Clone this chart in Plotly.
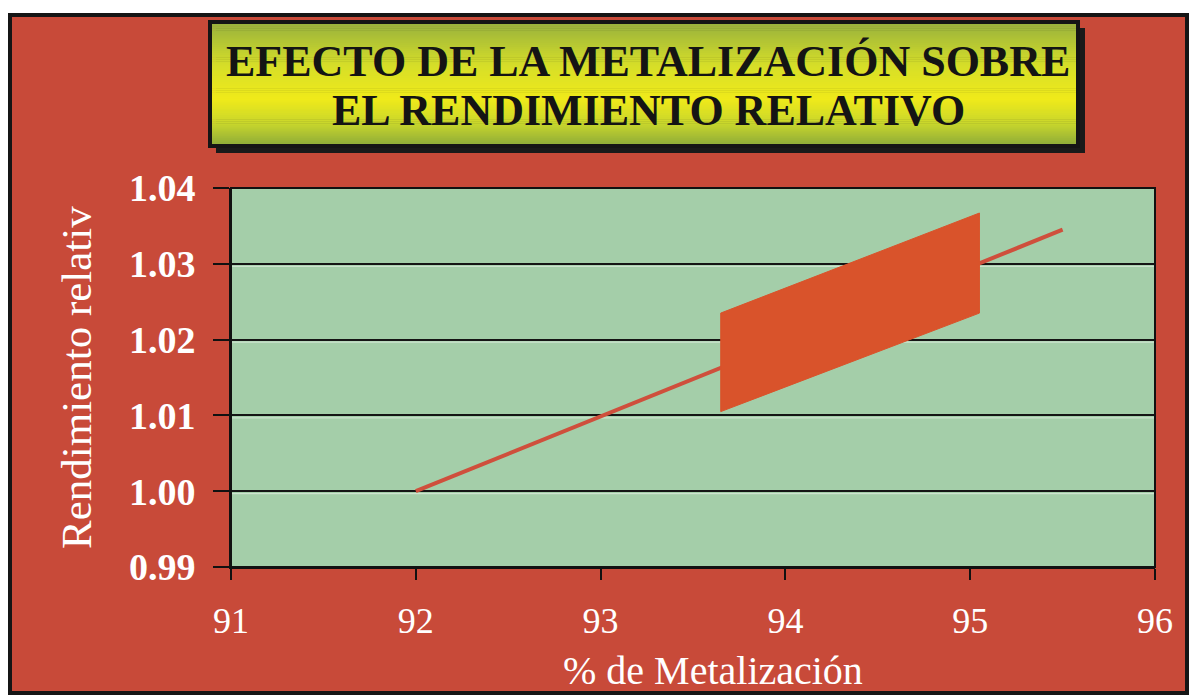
import plotly.graph_objects as go

# Data
line_x = [92.0, 95.5]
line_y = [1.000, 1.0345]

band_x = [93.65, 95.05]
band_low = [1.0105, 1.0235]
band_high = [1.0235, 1.0367]

x_ticks = [91, 92, 93, 94, 95, 96]
y_ticks = [0.99, 1.00, 1.01, 1.02, 1.03, 1.04]

title_lines = ["EFECTO DE LA METALIZACIÓN SOBRE", "EL RENDIMIENTO RELATIVO"]
x_title = "% de Metalización"
y_title = "Rendimiento relativ"

# Figure geometry (pixels)
FW, FH = 1189, 695
L, R, T, B = 231, 34, 188, 128
W, H = FW - L - R, FH - T - B
Y_RANGE = [0.99, 1.04]

RED = "#c84a39"
GREEN = "#a4cea9"
BAND = "#d9532b"
LINE = "#cf4f3c"
SERIF = "Liberation Serif, Times New Roman, serif"


def px(x):
    return (x - L) / W


def py(y):
    return 1 - (y - T) / H


fig = go.Figure()

fig.add_trace(go.Scatter(
    x=line_x, y=line_y, mode="lines",
    line=dict(color=LINE, width=4), hoverinfo="skip", showlegend=False,
))

poly_x = [band_x[0], band_x[0], band_x[1], band_x[1], band_x[0]]
poly_y = [band_low[0], band_high[0], band_high[1], band_low[1], band_low[0]]
fig.add_trace(go.Scatter(
    x=poly_x, y=poly_y, mode="lines", fill="toself",
    fillcolor=BAND, line=dict(color=BAND, width=1),
    hoverinfo="skip", showlegend=False,
))

shapes = []
# outer panel with black frame
shapes.append(dict(type="rect", xref="paper", yref="paper",
                   x0=px(10), x1=px(1187), y0=py(15), y1=py(693),
                   fillcolor=RED, line=dict(color="#151515", width=4),
                   layer="below"))
# plot area fill
shapes.append(dict(type="rect", xref="paper", yref="paper",
                   x0=0, x1=1, y0=0, y1=1,
                   fillcolor=GREEN, line=dict(width=0), layer="below"))
# faint light edge just under each grid line
px_per_unit = H / (Y_RANGE[1] - Y_RANGE[0])
for v in y_ticks[1:-1]:
    off = v - 2.5 / px_per_unit
    shapes.append(dict(type="line", xref="paper", yref="y",
                       x0=0, x1=1, y0=off, y1=off,
                       line=dict(color="rgba(235,245,235,0.7)", width=1),
                       layer="below"))

# title box: shadow, vertical gradient strips, border
bx0, bx1, by0, by1 = 210, 1078, 22, 146
shapes.append(dict(type="rect", xref="paper", yref="paper",
                   x0=px(bx0 + 6), x1=px(bx1 + 7), y0=py(by0 + 6), y1=py(by1 + 7),
                   fillcolor="#1a1a1a", line=dict(width=0), layer="below"))

grad = [(0.0, (150, 176, 62)), (0.35, (214, 222, 40)), (0.62, (240, 234, 26)),
        (0.82, (200, 214, 44)), (1.0, (140, 170, 58))]


def grad_color(t):
    for (t0, c0), (t1, c1) in zip(grad[:-1], grad[1:]):
        if t0 <= t <= t1:
            f = (t - t0) / (t1 - t0) if t1 > t0 else 0
            c = [round(a + (b - a) * f) for a, b in zip(c0, c1)]
            return "rgb(%d,%d,%d)" % tuple(c)
    return "rgb(%d,%d,%d)" % grad[-1][1]


n = 60
for i in range(n):
    y0 = by0 + (by1 - by0) * i / n
    y1 = by0 + (by1 - by0) * (i + 1) / n + 0.6
    shapes.append(dict(type="rect", xref="paper", yref="paper",
                       x0=px(bx0), x1=px(bx1), y0=py(y0), y1=py(y1),
                       fillcolor=grad_color((i + 0.5) / n),
                       line=dict(width=0), layer="below"))
shapes.append(dict(type="rect", xref="paper", yref="paper",
                   x0=px(bx0), x1=px(bx1), y0=py(by0), y1=py(by1),
                   fillcolor="rgba(0,0,0,0)", line=dict(color="#151515", width=4),
                   layer="above"))

# plot frame
shapes.append(dict(type="rect", xref="paper", yref="paper",
                   x0=0, x1=1, y0=0, y1=1,
                   fillcolor="rgba(0,0,0,0)", line=dict(color="#111", width=2),
                   layer="above"))

title_font = dict(family=SERIF, size=44, color="#141414", weight="bold")
annotations = [
    dict(text=title_lines[0], xref="paper", yref="paper",
         x=px((bx0 + bx1) / 2 + 4), y=py(62), xanchor="center", yanchor="middle",
         showarrow=False, font=title_font),
    dict(text=title_lines[1], xref="paper", yref="paper",
         x=px((bx0 + bx1) / 2 + 4), y=py(110), xanchor="center", yanchor="middle",
         showarrow=False, font=title_font),
    dict(text=x_title, xref="paper", yref="paper",
         x=px(713), y=py(670), xanchor="center", yanchor="middle",
         showarrow=False,
         font=dict(family=SERIF, size=40, color="white")),
    dict(text=y_title, xref="paper", yref="paper",
         x=px(76), y=py(378), xanchor="center", yanchor="middle",
         showarrow=False, textangle=-90,
         font=dict(family=SERIF, size=43, color="white")),
]

fig.update_layout(
    width=FW, height=FH,
    margin=dict(l=L, r=R, t=T, b=B, pad=0),
    paper_bgcolor="white",
    plot_bgcolor=GREEN,
    shapes=shapes,
    annotations=annotations,
    showlegend=False,
    xaxis=dict(range=[91, 96], tickvals=x_ticks, ticktext=[str(v) for v in x_ticks],
               showgrid=False, zeroline=False, showline=True,
               linecolor="#111", linewidth=2,
               ticks="outside", ticklen=11, tickwidth=2, tickcolor="#111",
               ticklabelstandoff=10,
               tickfont=dict(family=SERIF, size=36, color="white")),
    yaxis=dict(range=Y_RANGE, tickvals=y_ticks,
               ticktext=["%.2f" % v for v in y_ticks],
               showgrid=True, gridcolor="#151515", gridwidth=2,
               zeroline=False, showline=True, linecolor="#111", linewidth=2,
               ticks="outside", ticklen=16, tickwidth=2, tickcolor="#111",
               ticklabelstandoff=10,
               tickfont=dict(family=SERIF, size=38, color="white", weight="bold")),
)

fig.write_html("out.html")
